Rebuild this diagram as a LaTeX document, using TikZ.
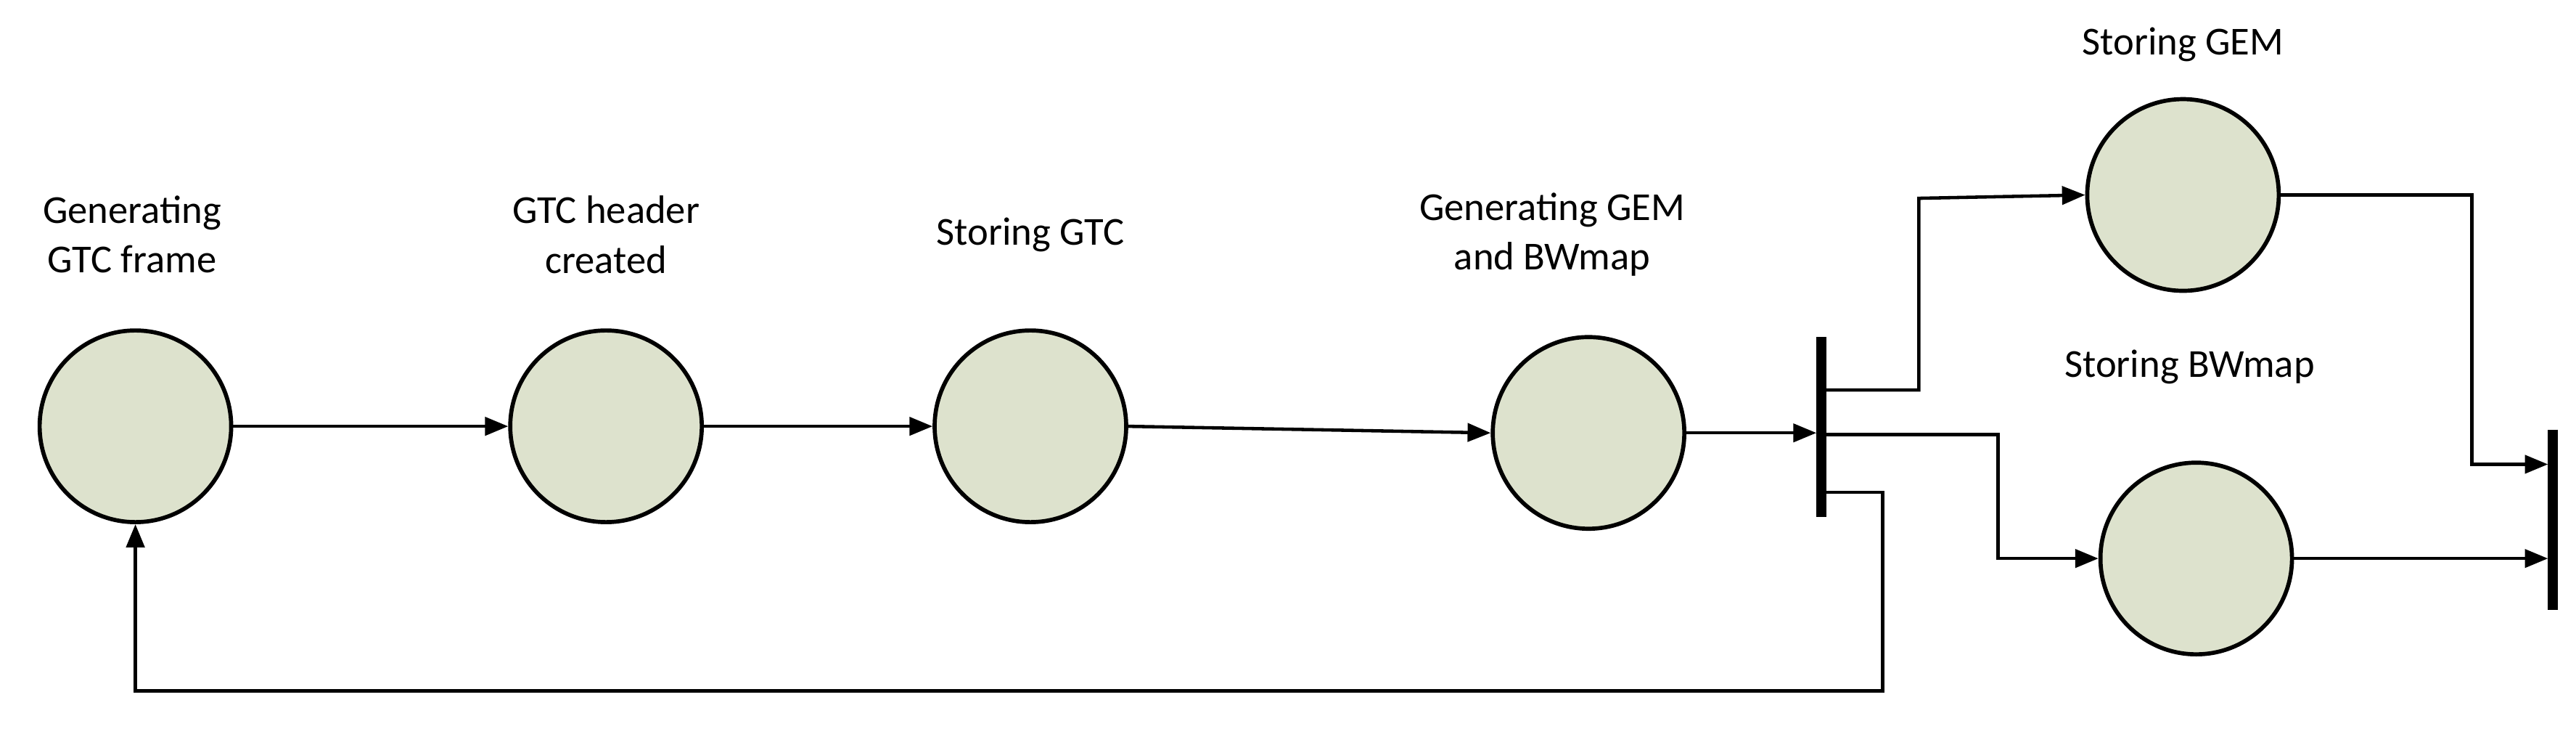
\documentclass[tikz,border=0pt]{standalone}
\usepackage{fontspec}
\setmainfont{Carlito}
\usetikzlibrary{arrows.meta}
\begin{document}
\begin{tikzpicture}[x=1pt,y=-1pt,
  place/.style={circle,draw,line width=2.5pt,fill={rgb,255:red,221;green,226;blue,205},minimum size=116pt,inner sep=0pt},
  lbl/.style={align=center,font=\fontsize{24}{30}\selectfont},
  bar/.style={line width=6pt},
  arr/.style={line width=2pt,-{Triangle[length=14pt,width=11pt]}},
  ln/.style={line width=2pt}]
\useasboundingbox (0,0) rectangle (1560,441);
\node[place] (c1) at (82,258) {};
\node[place] (c2) at (367,258) {};
\node[place] (c3) at (624,258) {};
\node[place] (c4) at (962,262) {};
\node[place] (c5) at (1322,118) {};
\node[place] (c6) at (1330,338) {};
\coordinate (b1t) at (1103,204); \coordinate (b1b) at (1103,313);
\coordinate (b2t) at (1546,260); \coordinate (b2b) at (1546,369);
\draw[bar] (b1t) -- (b1b);
\draw[bar] (b2t) -- (b2b);
\node[lbl] (l1) at (80,142) {Generating\\GTC frame};
\node[lbl] (l2) at (367,142) {GTC header\\created};
\node[lbl] (l3) at (624,142) {Storing GTC};
\node[lbl] (l4) at (940,142) {Generating GEM\\and BWmap};
\node[lbl] (l5) at (1322,27) {Storing GEM};
\node[lbl] (l6) at (1326,222) {Storing BWmap};
\draw[arr] (c1.east) -- (c2.west);
\draw[arr] (c2.east) -- (c3.west);
\draw[arr] (c3.east) -- (c4.west);
\draw[arr] (c4.east) -- (1100,262);
\draw[arr] (1103,236) -- (1162,236) -- (1162,120) -- (c5.west);
\draw[arr] (1103,263) -- (1210,263) -- (1210,338) -- (c6.west);
\draw[arr] (1103,298) -- (1140,298) -- (1140,418) -- (82,418) -- (c1.south);
\draw[arr] (c5.east) -- (1497,118) -- (1497,281) -- (1543,281);
\draw[arr] (c6.east) -- (1543,338);
\end{tikzpicture}
\end{document}
